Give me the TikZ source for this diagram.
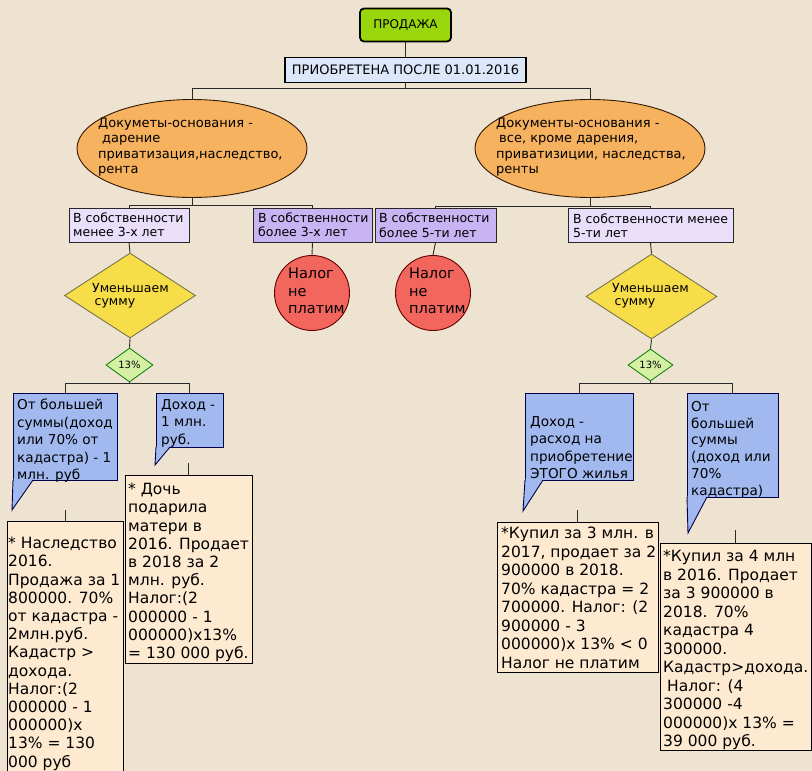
\documentclass[tikz,border=0pt]{standalone}
\usepackage{fontspec}
\setmainfont{DejaVu Sans}
\usetikzlibrary{shapes.geometric,calc}
\definecolor{bgcol}{HTML}{EEE2D1}
\definecolor{limec}{HTML}{9AD60C}
\definecolor{prioc}{HTML}{DDE7FA}
\definecolor{orangec}{HTML}{F6B25F}
\definecolor{lavl}{HTML}{E9DFFB}
\definecolor{lavd}{HTML}{C9B4F3}
\definecolor{yellowc}{HTML}{F7DD48}
\definecolor{greenc}{HTML}{D5F0A3}
\definecolor{redc}{HTML}{F2665E}
\definecolor{bluec}{HTML}{A2B9F0}
\definecolor{peachc}{HTML}{FDEAD1}
\definecolor{linec}{HTML}{2A2A2A}
\newcommand\myfEll{\fontsize{13}{15.3}\selectfont}
\newcommand\myfBox{\fontsize{12.5}{14.5}\selectfont}
\newcommand\myfDia{\fontsize{12.5}{13.5}\selectfont}
\newcommand\myfCir{\fontsize{14.5}{17.5}\selectfont}
\newcommand\myfCal{\fontsize{13.6}{17.5}\selectfont}
\newcommand\myfCalb{\fontsize{13.6}{16.8}\selectfont}
\newcommand\myfBot{\fontsize{15.5}{18.2}\selectfont}
\newcommand\myfBotb{\fontsize{15.5}{18.5}\selectfont}
\pgfdeclarelayer{bg}
\pgfdeclarelayer{conn}
\pgfsetlayers{bg,conn,main}
\tikzset{
  txt/.style={inner sep=0pt, align=left, anchor=north west, text=black},
  conn/.style={draw=linec, line width=0.9pt},
  ellbox/.style={ellipse, draw=black!80!orange, line width=0.9pt, fill=orangec, inner sep=0pt},
  lavbox/.style={rectangle, draw=black!85, line width=0.9pt, inner sep=0pt, minimum height=34pt},
  yeldia/.style={diamond, draw=black!60!yellow, line width=0.9pt, fill=yellowc, inner sep=0pt},
  grndia/.style={diamond, draw=black!50!green, line width=0.8pt, fill=greenc, inner sep=0pt, font=\fontsize{10}{11}\selectfont},
  redcirc/.style={circle, draw=black!60!red, line width=0.9pt, fill=redc, inner sep=0pt, minimum size=75pt},
  callbox/.style={rectangle, draw=black!70!blue, line width=0.9pt, fill=bluec, inner sep=0pt},
  callbord/.style={draw=black!70!blue, line width=0.9pt},
  botbox/.style={rectangle, draw=black, line width=0.9pt, fill=peachc, inner sep=0pt}
}
\begin{document}
\begin{tikzpicture}[x=1pt,y=-1pt]
\useasboundingbox (0,0) rectangle (812,771);
\begin{pgfonlayer}{bg}
\fill[bgcol] (0,0) rectangle (812,771);
\end{pgfonlayer}

% top
\node[rectangle, rounded corners=4pt, draw=black, line width=1.8pt, fill=limec,
      minimum width=91pt, minimum height=33pt, font=\fontsize{12}{14}\selectfont] (prod) at (405.5,25) {ПРОДАЖА};
\node[rectangle, draw=black, line width=1.6pt, fill=prioc, minimum width=241pt, minimum height=25pt,
      inner sep=0pt, font=\fontsize{13}{15}\selectfont] (prio) at (405.5,70) {ПРИОБРЕТЕНА ПОСЛЕ 01.01.2016};

% ellipses
\node[ellbox, minimum width=230pt, minimum height=98pt] (e1) at (192,148.5) {};
\node[ellbox, minimum width=230pt, minimum height=98pt] (e2) at (590,148.5) {};
\node[txt, font=\myfEll] (e1t) at (98,118) {Докуметы-основания -\\\hspace*{4pt}дарение\\приватизация,наследство,\\рента};
\node[txt, font=\myfEll] (e2t) at (496,118) {Документы-основания -\\\hspace*{3pt}все, кроме дарения,\\приватизиции, наследства,\\ренты};

% ownership boxes
\node[lavbox, fill=lavl, minimum width=120pt] (b1) at (129,225) {};
\node[lavbox, fill=lavd, minimum width=119pt] (b2) at (312.5,225) {};
\node[lavbox, fill=lavd, minimum width=121pt] (b3) at (435.5,225) {};
\node[lavbox, fill=lavl, minimum width=165pt] (b4) at (650.5,225.5) {};
\node[txt, font=\myfBox] (b1t) at (73,212.5) {В собственности\\менее 3-х лет};
\node[txt, font=\myfBox] (b2t) at (258,212.5) {В собственности\\более 3-х лет};
\node[txt, font=\myfBox] (b3t) at (379,213) {В собственности\\более 5-ти лет};
\node[txt, font=\myfBox] (b4t) at (573,213.5) {В собственности менее\\5-ти лет};

% red circles
\node[redcirc] (c1) at (312,293) {};
\node[redcirc] (c2) at (433,293) {};
\node[txt, font=\myfCir] (c1t) at (288,268) {Налог\\не\\платим};
\node[txt, font=\myfCir] (c2t) at (409,268) {Налог\\не\\платим};

% diamonds
\node[yeldia, minimum width=131pt, minimum height=85pt] (d1) at (130,295.5) {};
\node[yeldia, minimum width=131pt, minimum height=85pt] (d2) at (651.5,296.5) {};
\node[txt, font=\myfDia] (d1t) at (92,283) {Уменьшаем\\\hspace*{2.5pt}сумму};
\node[txt, font=\myfDia] (d2t) at (612,283) {Уменьшаем\\\hspace*{2.5pt}сумму};
\node[grndia, minimum width=47pt, minimum height=34pt] (s1) at (129.5,365) {13\%};
\node[grndia, minimum width=45pt, minimum height=32pt] (s2) at (650.5,365) {13\%};

% callouts
\node[callbox, minimum width=104pt, minimum height=87pt] (k1) at (65,436.5) {};
\fill[bluec] (13.6,479) -- (33,479) -- (12,510) -- cycle;
\draw[callbord] (13,480) -- (12,510) -- (33,480);
\node[txt, font=\myfCal] (k1t) at (17,399) {От большей\\суммы(доход\\или 70\% от\\кадастра) - 1\\млн. руб};

\node[callbox, minimum width=67pt, minimum height=54pt] (k2) at (189.5,420) {};
\fill[bluec] (156.6,446) -- (170,446) -- (155,465) -- cycle;
\draw[callbord] (156,447) -- (155,465) -- (170,447);
\node[txt, font=\myfCal] (k2t) at (161,399) {Доход -\\1 млн.\\руб.};

\node[callbox, minimum width=108pt, minimum height=87pt] (k3) at (579,436.5) {};
\fill[bluec] (525.6,479) -- (543,479) -- (523,511) -- cycle;
\draw[callbord] (525,480) -- (523,511) -- (543,480);
\node[txt, font=\myfCal] (k3t) at (530,416) {Доход -\\расход на\\приобретение\\ЭТОГО жилья};

\node[callbox, minimum width=91pt, minimum height=104pt] (k4) at (732.5,445) {};
\fill[bluec] (687.6,496) -- (707,496) -- (688,533) -- cycle;
\draw[callbord] (687,497) -- (688,533) -- (707,497);
\node[txt, font=\myfCalb] (k4t) at (691,401) {От\\большей\\суммы\\(доход или\\70\%\\кадастра)};

% bottom boxes
\node[botbox, minimum width=116pt, minimum height=254pt] (n1) at (65,648) {};
\node[txt, font=\myfBot] (n1t) at (8,537) {* Наследство\\2016.\\Продажа за 1\\800000. 70\%\\от кадастра -\\2млн.руб.\\Кадастр >\\дохода.\\Налог:(2\\000000 - 1\\000000)x\\13\% = 130\\000 руб};
\node[botbox, minimum width=127pt, minimum height=188pt] (n2) at (188.5,569) {};
\node[txt, font=\myfBot] (n2t) at (128,483) {* Дочь\\подарила\\матери в\\2016. Продает\\в 2018 за 2\\млн. руб.\\Налог:(2\\000000 - 1\\000000)x13\%\\= 130 000 руб.};
\node[botbox, minimum width=161pt, minimum height=150pt] (n3) at (577.5,597) {};
\node[txt, font=\myfBotb] (n3t) at (501,527) {*Купил за 3 млн. в\\2017, продает за 2\\900000 в 2018.\\70\% кадастра = 2\\700000. Налог: (2\\900000 - 3\\000000)x 13\% < 0\\Налог не платим};
\node[botbox, minimum width=151pt, minimum height=207pt] (n4) at (735.5,646.5) {};
\node[txt, font=\myfBotb] (n4t) at (663,550) {*Купил за 4 млн\\в 2016. Продает\\за 3 900000 в\\2018. 70\%\\кадастра 4\\300000.\\Кадастр>дохода.\\\hspace*{4pt}Налог: (4\\300000 -4\\000000)x 13\% =\\39 000 руб.};

% connectors
\begin{pgfonlayer}{conn}
\coordinate (t0) at (0,88);
\coordinate (t1) at (0,205);
\coordinate (t2) at (0,206);
\coordinate (t3) at (0,383.5);
\coordinate (t4) at (0,383.5);
\draw[conn] (prod.south) -- (prio.north);
\draw[conn] (prio.south) -- (prio.south |- t0);
\draw[conn] (e1.north) -- (e1.north |- t0) -- (e2.north |- t0) -- (e2.north);
\draw[conn] (e1.south) -- (e1.south |- t1);
\draw[conn] (b1.north) -- (b1.north |- t1) -- (b2.north |- t1) -- (b2.north);
\draw[conn] (e2.south) -- (e2.south |- t2);
\draw[conn] (b3.north) -- (b3.north |- t2) -- (b4.north |- t2) -- (b4.north);
\draw[conn] (b1.south) -- (d1.north);
\draw[conn] (b2.south) -- (c1.north);
\draw[conn] (b3.south) -- (c2.north);
\draw[conn] (b4.south) -- (d2.north);
\draw[conn] (d1.south) -- (s1.north);
\draw[conn] (d2.south) -- (s2.north);
\draw[conn] (s1.south) -- (s1.south |- t3);
\draw[conn] (k1.north) -- (k1.north |- t3) -- (k2.north |- t3) -- (k2.north);
\draw[conn] (s2.south) -- (s2.south |- t4);
\draw[conn] (k3.north) -- (k3.north |- t4) -- (k4.north |- t4) -- (k4.north);
\draw[conn] (n1.north) -- ++(0,-11);
\draw[conn] (n2.north) -- ++(0,-12);
\draw[conn] (n3.north) -- ++(0,-12);
\draw[conn] (n4.north) -- ++(0,-13);
\end{pgfonlayer}
\end{tikzpicture}
\end{document}
